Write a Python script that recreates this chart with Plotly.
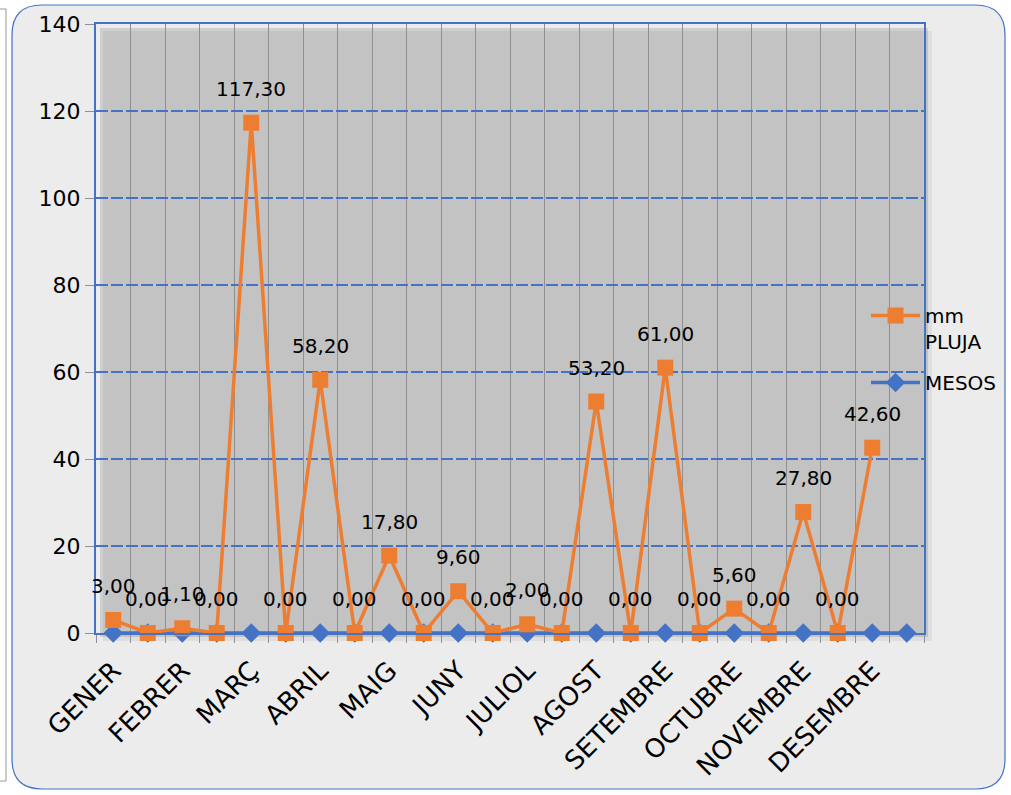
import plotly.graph_objects as go

# ---- data ----
month_labels = ["GENER", "FEBRER", "MARÇ", "ABRIL", "MAIG", "JUNY", "JULIOL",
                "AGOST", "SETEMBRE", "OCTUBRE", "NOVEMBRE", "DESEMBRE"]
rain_mm = [3.00, 0.00, 1.10, 0.00, 117.30, 0.00, 58.20, 0.00, 17.80, 0.00, 9.60, 0.00,
           2.00, 0.00, 53.20, 0.00, 61.00, 0.00, 5.60, 0.00, 27.80, 0.00, 42.60]
mesos = [0] * 24
y_ticks = [0, 20, 40, 60, 80, 100, 120, 140]

rain_x = list(range(len(rain_mm)))
mesos_x = list(range(len(mesos)))
label_x = [2 * i for i in range(len(month_labels))]

ORANGE = "#ed7d31"
BLUE = "#4472c4"
FONT = "DejaVu Sans"

# plot-area geometry (pixels)
W, H = 1011, 795
L, R, T, B = 96, 924, 24, 633


def px(x):
    return (x - L) / (R - L)


def py(y):
    return (B - y) / (B - T)


fig = go.Figure()

fig.add_trace(go.Scatter(
    x=mesos_x, y=mesos, name="MESOS", mode="lines+markers",
    line=dict(color=BLUE, width=3.5),
    marker=dict(symbol="diamond", size=15, color=BLUE),
    legendrank=2, legendgroup="b", cliponaxis=False,
))
fig.add_trace(go.Scatter(
    x=rain_x, y=rain_mm, name="mm<br>PLUJA", mode="lines+markers",
    line=dict(color=ORANGE, width=3.5),
    marker=dict(symbol="square", size=16, color=ORANGE),
    legendrank=1, legendgroup="a", cliponaxis=False,
))

for xv, v in zip(rain_x, rain_mm):
    fig.add_annotation(
        x=xv, y=v, text=f"{v:.2f}".replace(".", ","), showarrow=False,
        yshift=34, font=dict(family=FONT, size=20, color="black"),
    )

# rounded chart background
x0, x1 = px(12), px(1005)
y0, y1 = py(789), py(5)
rx, ry = 30 / (R - L), 30 / (B - T)
path = (f"M {x0+rx},{y1} L {x1-rx},{y1} Q {x1},{y1} {x1},{y1-ry} "
        f"L {x1},{y0+ry} Q {x1},{y0} {x1-rx},{y0} L {x0+rx},{y0} "
        f"Q {x0},{y0} {x0},{y0+ry} L {x0},{y1-ry} Q {x0},{y1} {x0+rx},{y1} Z")
shapes = [
    dict(type="path", xref="paper", yref="paper", path=path,
         fillcolor="#ececec", line=dict(color=BLUE, width=1.2), layer="below"),
    dict(type="path", xref="paper", yref="paper",
         path=f"M {px(0)},{py(9)} L {px(6)},{py(9)} L {px(6)},{py(781)} L {px(0)},{py(781)}",
         line=dict(color="#9a9a9a", width=1), layer="below"),
    dict(type="rect", xref="paper", yref="paper",
         x0=px(L + 7), x1=px(R + 8), y0=py(B + 8), y1=py(T + 7),
         fillcolor="rgba(0,0,0,0.06)", line=dict(width=0), layer="below"),
    dict(type="rect", xref="paper", yref="paper",
         x0=px(L + 4), x1=px(R + 4), y0=py(B + 4), y1=py(T + 4),
         fillcolor="rgba(0,0,0,0.12)", line=dict(width=0), layer="below"),
]

fig.update_layout(
    width=W, height=H,
    margin=dict(l=L, r=W - R, t=T, b=H - B, autoexpand=False),
    paper_bgcolor="white",
    plot_bgcolor="#b9b9b9",
    shapes=shapes,
    showlegend=True,
    legend=dict(x=px(866), y=py(296), xanchor="left", yanchor="top",
                bgcolor="rgba(0,0,0,0)", font=dict(family=FONT, size=20, color="black"),
                itemwidth=49, valign="top", traceorder="grouped", tracegroupgap=12),
    xaxis=dict(
        range=[-0.5, 23.5], tickmode="array", tickvals=label_x, ticktext=month_labels,
        tickangle=-45, ticks="", showgrid=False, zeroline=False,
        tickfont=dict(family=FONT, size=26, color="black"),
        ticklabelstandoff=10,
        showline=True, mirror=True, linecolor=BLUE, linewidth=2,
        minor=dict(tick0=-0.5, dtick=1, showgrid=True, gridcolor="#909090", gridwidth=1.2,
                   ticks="outside", ticklen=8, tickcolor="#909090"),
        automargin=False,
    ),
    yaxis=dict(
        range=[0, 140], tickvals=y_ticks, ticks="outside", ticklen=9, tickcolor="#909090",
        showgrid=True, gridcolor=BLUE, gridwidth=1.5, griddash="12px,3px", zeroline=False,
        tickfont=dict(family=FONT, size=22, color="black"),
        showline=True, mirror=True, linecolor=BLUE, linewidth=2,
        automargin=False,
    ),
)

fig.write_html("out.html", config={"displayModeBar": False},
               post_script="document.body.style.margin='0';")
